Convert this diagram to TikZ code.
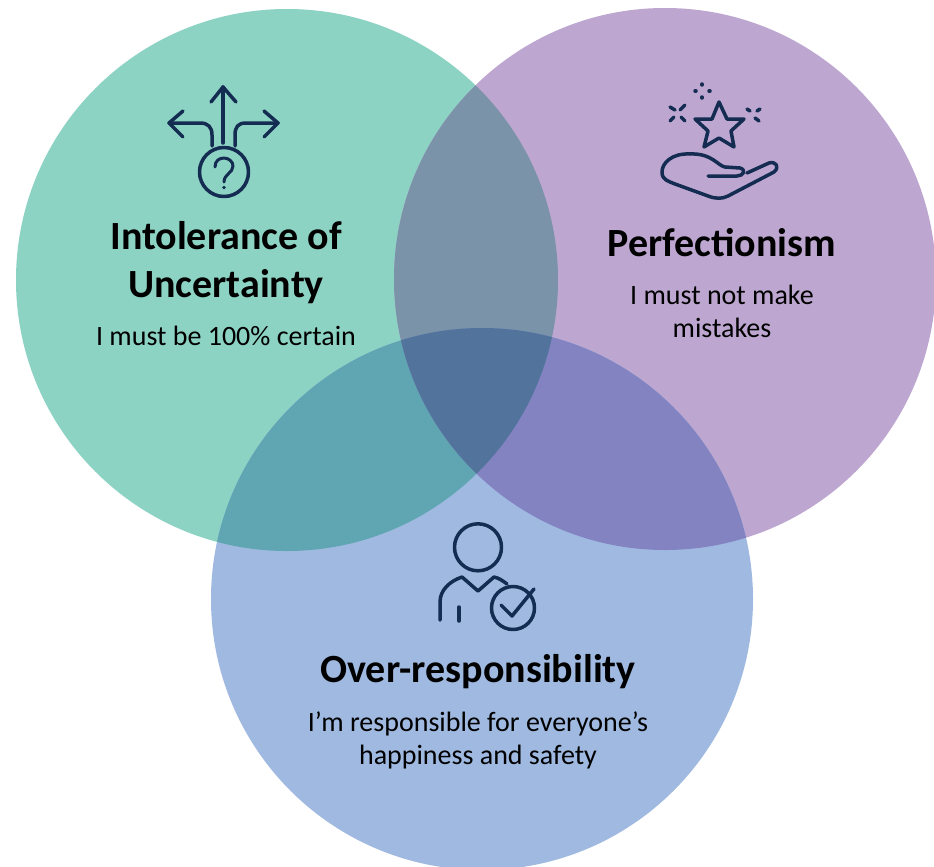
\documentclass[tikz,border=0pt]{standalone}
\usepackage{fontspec}
\setmainfont{Carlito}
\definecolor{cG}{HTML}{8DD3C4}
\definecolor{cP}{HTML}{BDA7D0}
\definecolor{cB}{HTML}{9FB9E0}
\definecolor{cGP}{HTML}{7B93A9}
\definecolor{cGB}{HTML}{5FA6B2}
\definecolor{cPB}{HTML}{8383C2}
\definecolor{cA}{HTML}{52749C}
\definecolor{ink}{HTML}{142C52}
\tikzset{
  title/.style={anchor=base,font=\fontsize{40}{40}\selectfont\bfseries,text=black,inner sep=0pt},
  body/.style={anchor=base,font=\fontsize{28}{28}\selectfont,text=black,inner sep=0pt},
  icon/.style={draw=ink,line width=3.5pt,line cap=round,line join=round},
}
\begin{document}
\begin{tikzpicture}[x=1pt,y=-1pt]
\useasboundingbox (0,0) rectangle (934,867);
\clip (0,0) rectangle (934,867);
\fill[white] (0,0) rectangle (934,867);
\def\cg{(287,280) circle[radius=271pt]}
\def\cp{(665,279) circle[radius=271pt]}
\def\cb{(482,599) circle[radius=271pt]}
\fill[cG] \cg; \fill[cP] \cp; \fill[cB] \cb;
\begin{scope}\clip \cg; \fill[cGP] \cp; \fill[cGB] \cb; \end{scope}
\begin{scope}\clip \cp; \fill[cPB] \cb; \end{scope}
\begin{scope}\clip \cg; \clip \cp; \fill[cA] \cb; \end{scope}
% icon: uncertainty
\draw[icon] (223,143) -- (223,87);
\draw[icon] (211,102) -- (223,87) -- (236,102);
\draw[icon] (183,111) -- (169,123) -- (183,137);
\draw[icon] (169,123) -- (200,123) .. controls (208,123) and (212,127) .. (212,135) -- (212,146);
\draw[icon] (264,111) -- (278,123) -- (264,137);
\draw[icon] (278,123) -- (246,123) .. controls (238,123) and (235,127) .. (235,135) -- (235,146);
\draw[icon] (224,172) circle[radius=24.5pt];
\draw[icon,line width=3pt] (215,167) .. controls (215,161) and (219,158) .. (224,158) .. controls (229,158) and (233,162) .. (233,166) .. controls (233,173) and (224,174) .. (224,182);
\fill[ink] (224,187.5) circle[radius=1.8pt];
% icon: star and hand
\draw[icon] (719,102) -- (727,119) -- (744,119) -- (731,131) -- (734,147) -- (719,138) -- (704,147) -- (708,131) -- (695,119) -- (712,119) -- cycle;
\draw[icon] (702,84) -- (702,85) (702,97) -- (702,98) (695,91) -- (696,91) (709,91) -- (710,91);
\draw[icon] (670,107) -- (675,110) (685,105) -- (680,110) (670,121) -- (674,117) (685,121) -- (681,117);
\draw[icon] (747,109) -- (750,111) (760,109) -- (757,111) (755,118) -- (759,121);
\draw[icon] (708,176) -- (737,176) .. controls (743,176) and (747,170) .. (740,168) -- (725,167)
  .. controls (718,166) and (712,153) .. (690,154) .. controls (672,153) and (662,163) .. (662,172)
  .. controls (662,180) and (668,181) .. (675,184) -- (708,196) .. controls (716,199) and (722,199) .. (728,196)
  -- (774,172) .. controls (780,167) and (776,161) .. (769,163) -- (747,173);
% icon: person
\draw[icon] (478,547.3) circle[radius=23.5pt];
\draw[icon] (440,620) -- (440,602) .. controls (440,590) and (450,581) .. (462,577) -- (478,591) -- (494,577) .. controls (499,578) and (503,581) .. (507,584);
\draw[icon] (459,607) -- (459,621);
\draw[icon] (513,608) circle[radius=21.5pt];
\draw[icon] (501,605) -- (512,616) -- (534,589);
% text
\node[title] (t1a) at (226,249) {Intolerance of};
\node[title] (t1b) at (226,297) {Uncertainty};
\node[body] (b1) at (226,345) {I must be 100\% certain};
\node[title] (t2) at (722,256) {Perfectionism};
\node[body] (b2a) at (722,304) {I must not make};
\node[body] (b2b) at (722,337) {mistakes};
\node[title] (t3) at (478,682) {Over-responsibility};
\node[body] (b3a) at (478,731) {I’m responsible for everyone’s};
\node[body] (b3b) at (478,764) {happiness and safety};
\end{tikzpicture}
\end{document}
